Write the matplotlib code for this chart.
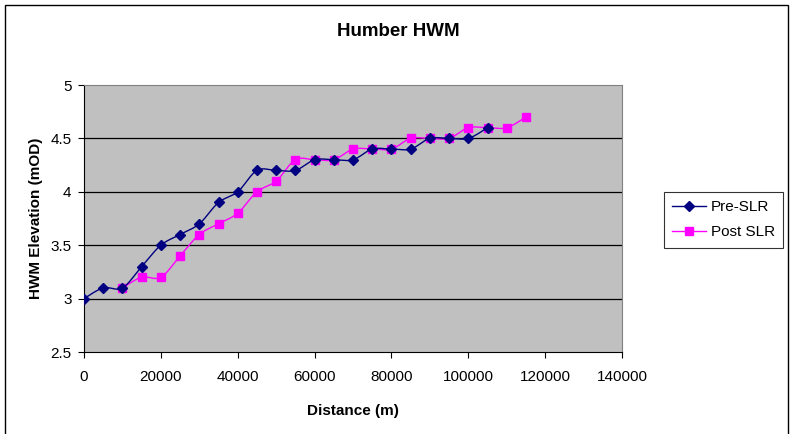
import numpy as np
import matplotlib.pyplot as plt
from matplotlib.patches import Rectangle

plt.rcParams['font.family'] = ['Liberation Sans', 'DejaVu Sans']

# Distance along the estuary (m) and high water mark elevations (mOD)
pre_x = [0, 5000, 10000, 15000, 20000, 25000, 30000, 35000, 40000, 45000, 50000,
         55000, 60000, 65000, 70000, 75000, 80000, 85000, 90000, 95000, 100000, 105000]
pre_y = [3.0, 3.1, 3.1, 3.3, 3.5, 3.6, 3.7, 3.9, 4.0, 4.2, 4.2,
         4.2, 4.3, 4.3, 4.3, 4.4, 4.4, 4.4, 4.5, 4.5, 4.5, 4.6]
post_x = [10000, 15000, 20000, 25000, 30000, 35000, 40000, 45000, 50000, 55000, 60000,
          65000, 70000, 75000, 80000, 85000, 90000, 95000, 100000, 105000, 110000, 115000]
post_y = [3.1, 3.2, 3.2, 3.4, 3.6, 3.7, 3.8, 4.0, 4.1, 4.3, 4.3,
          4.3, 4.4, 4.4, 4.4, 4.5, 4.5, 4.5, 4.6, 4.6, 4.6, 4.7]
x_ticks = [0, 20000, 40000, 60000, 80000, 100000, 120000, 140000]
y_ticks = [2.5, 3, 3.5, 4, 4.5, 5]


def smooth(x, y, n=20):
    # Catmull-Rom curve through the points, like a spreadsheet "smoothed line"
    p = np.column_stack([x, y]).astype(float)
    p = np.vstack([p[0], p, p[-1]])
    t = np.linspace(0, 1, n, endpoint=False)[:, None]
    out = []
    for i in range(1, len(p) - 2):
        p0, p1, p2, p3 = p[i - 1], p[i], p[i + 1], p[i + 2]
        seg = 0.5 * ((2 * p1) + (-p0 + p2) * t + (2 * p0 - 5 * p1 + 4 * p2 - p3) * t ** 2
                     + (-p0 + 3 * p1 - 3 * p2 + p3) * t ** 3)
        out.append(seg)
    out.append(p[-2][None, :])
    out = np.vstack(out)
    return out[:, 0], out[:, 1]


fig = plt.figure(figsize=(7.9, 4.34), dpi=100)
fig.patches.append(Rectangle((4.5 / 790, -0.01), 783 / 790, 1.0 - 4.5 / 434 + 0.01,
                             transform=fig.transFigure, fill=False,
                             edgecolor='black', linewidth=1.0))
ax = fig.add_axes([84 / 790, 1 - 352 / 434, 538 / 790, 267 / 434])
ax.set_facecolor('#C0C0C0')

for v in y_ticks[1:-1]:
    ax.axhline(v, color='black', linewidth=0.9, zorder=1)

sx, sy = smooth(pre_x, pre_y)
ax.plot(sx, sy, color='#000080', linewidth=1.0, zorder=3)
ax.plot(pre_x, pre_y, linestyle='none', marker='D', markersize=5,
        color='#000080', zorder=4)
sx, sy = smooth(post_x, post_y)
ax.plot(sx, sy, color='#FF00FF', linewidth=1.0, zorder=2)
ax.plot(post_x, post_y, linestyle='none', marker='s', markersize=6,
        color='#FF00FF', zorder=2)

ax.set_xlim(0, 140000)
ax.set_ylim(2.5, 5)
ax.set_xticks(x_ticks)
ax.set_yticks(y_ticks)
ax.set_xticklabels([str(v) for v in x_ticks])
ax.set_yticklabels([('%g' % v) for v in y_ticks])
ax.tick_params(labelsize=11, length=4, width=0.8, direction='out')
ax.tick_params(axis='x', pad=9)
ax.tick_params(axis='y', pad=5)
for side in ['top', 'right']:
    ax.spines[side].set_color('#808080')
for side in ['left', 'bottom']:
    ax.spines[side].set_color('black')
    ax.spines[side].set_linewidth(0.8)

ax.set_xlabel('Distance (m)', fontsize=11, fontweight='bold', labelpad=14)
ax.set_ylabel('HWM Elevation (mOD)', fontsize=11, fontweight='bold', labelpad=5)
fig.text(398 / 790, 1 - 31 / 434, 'Humber HWM', fontsize=13.5, fontweight='bold',
         ha='center', va='center')

# legend entries drawn as line + marker samples
h1, = ax.plot([], [], color='#000080', marker='D', markersize=5, linewidth=1.0)
h2, = ax.plot([], [], color='#FF00FF', marker='s', markersize=6, linewidth=1.0)
leg = fig.legend([h1, h2], ['Pre-SLR', 'Post SLR'], loc='upper left',
                 bbox_to_anchor=(664 / 790, 1 - 192 / 434), fontsize=11,
                 frameon=True, fancybox=False, edgecolor='black', handlelength=2.2,
                 borderpad=0.55, labelspacing=0.7, handletextpad=0.3, borderaxespad=0)
leg.get_frame().set_linewidth(0.8)

fig.savefig('out.png', dpi=100)
